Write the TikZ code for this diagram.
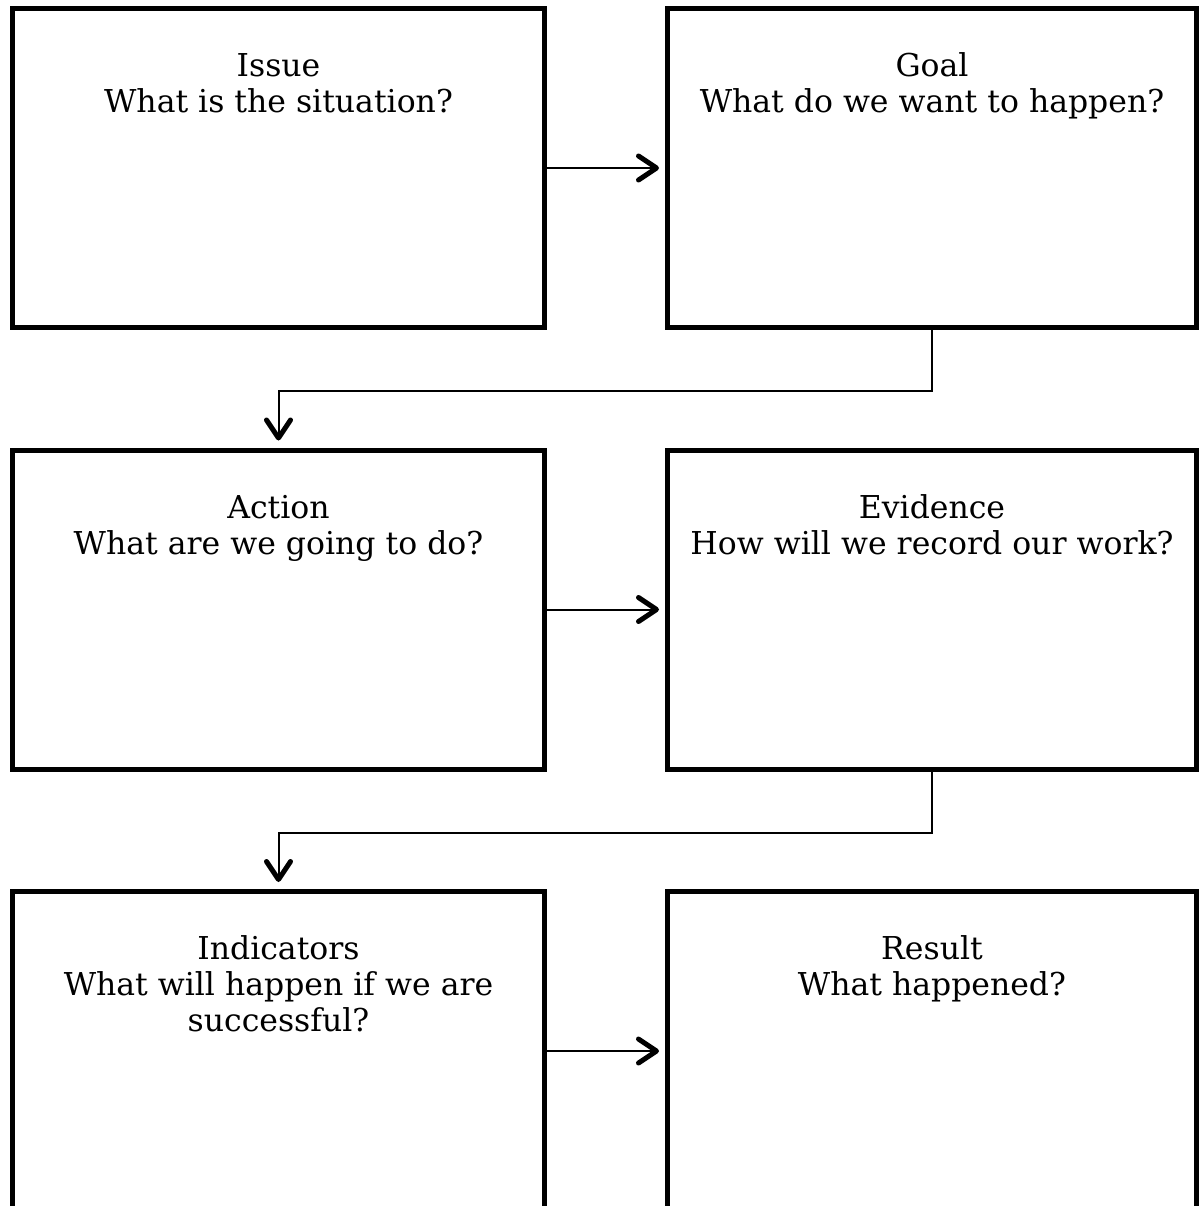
\documentclass[tikz,border=0pt]{standalone}
\usepackage{fontspec}
\setmainfont{DejaVu Serif}
\usetikzlibrary{arrows.meta,calc}
\begin{document}
\begin{tikzpicture}[x=1pt,y=-1pt,
  box/.style={draw, line width=5pt, minimum width=532pt, minimum height=319pt, inner sep=0pt},
  rbox/.style={box, minimum width=529pt},
  txt/.style={anchor=base, align=center, inner sep=0pt, font=\fontsize{31.5}{35.7}\selectfont},
  link/.style={line width=2pt, -{Straight Barb[length=18pt,width=24pt,line width=5pt,round]}, shorten >=6pt}
]
\useasboundingbox (0,0) rectangle (1199,1206);
\clip (0,0) rectangle (1199,1206);
\node[box]  (issue)      at (278.5,168)  {};
\node[rbox] (goal)       at (932,168)    {};
\node[box]  (action)     at (278.5,609.5) {};
\node[rbox] (evidence)   at (932,609.5)  {};
\node[box]  (indicators) at (278.5,1051) {};
\node[rbox] (result)     at (932,1051)   {};

\node[txt] (tissue) at ($(issue.north)+(0,106.5)$) {Issue\\What is the situation?};
\node[txt] (tgoal) at ($(goal.north)+(0,106.5)$) {Goal\\What do we want to happen?};
\node[txt] (taction) at ($(action.north)+(0,106.5)$) {Action\\What are we going to do?};
\node[txt] (tevidence) at ($(evidence.north)+(0,106.5)$) {Evidence\\How will we record our work?};
\node[txt] (tindicators) at ($(indicators.north)+(0,142.2)$) {Indicators\\What will happen if we are\\successful?};
\node[txt] (tresult) at ($(result.north)+(0,106.5)$) {Result\\What happened?};

\draw[link] (issue.east) -- (goal.west);
\draw[link] (action.east) -- (evidence.west);
\draw[link] (indicators.east) -- (result.west);
\draw[link, shorten >=7pt] (goal.south) -- ++(0,61) -| (action.north);
\draw[link, shorten >=7pt] (evidence.south) -- ++(0,61) -| (indicators.north);
\end{tikzpicture}
\end{document}
